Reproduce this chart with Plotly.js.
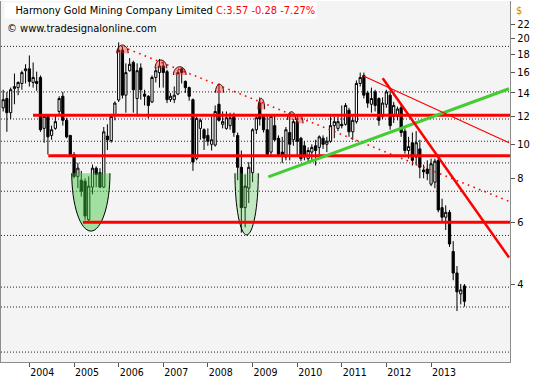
<!DOCTYPE html>
<html><head><meta charset="utf-8">
<script src="https://cdn.plot.ly/plotly-3.0.1.min.js"></script>
<style>html,body{margin:0;padding:0;background:#fff;}#chart{width:533px;height:380px;}</style>
</head><body><div id="chart"></div>
<script>
// ---- data (monthly candles, first month June 2003) ----
const firstYear = 2003, firstMonth = 6;
const opens = [12.7,13.5,12.3,14.4,14.5,14.9,16.2,16.4,15.0,15.1,
15.5,11.1,12.0,10.6,11.1,12.4,13.7,11.7,10.6,9.35,
8.1,7.9,7.85,6.1,7.55,8.55,8.3,7.55,10.55,10.25,
12.1,13.37,18.55,13.8,16.2,17.1,13.5,16.5,13.9,13.7,
13.2,15.5,16.0,16.7,16.1,13.4,13.4,13.9,16.4,15.1,
14.5,13.4,9.1,11.1,11.0,10.6,10.0,9.95,13.0,11.4,
11.1,11.3,12.0,10.6,8.6,6.6,7.5,8.3,11.0,13.1,
12.0,11.0,9.5,11.3,10.4,9.5,9.2,10.8,10.3,11.6,
10.4,9.9,9.1,9.5,9.9,9.8,10.4,10.0,10.2,11.3,
11.1,11.4,11.4,12.5,10.85,11.6,14.9,15.7,14.0,13.0,
14.1,13.5,12.0,13.0,13.8,12.0,12.0,12.7,10.9,9.6,
10.1,9.2,9.7,8.45,8.5,7.7,7.8,9.0,6.6,6.2,
6.4,4.95,4.3,3.75,3.95];
const highs = [14.3,14.1,14.5,15.9,15.1,16.2,16.9,17.9,17.1,16.1,
15.7,12.1,12.1,11.3,12.1,13.7,14.1,11.9,10.6,9.5,
8.85,8.4,8.0,8.1,8.75,8.65,8.55,11.2,11.4,12.2,
13.25,19.5,19.0,17.0,17.6,17.3,17.0,17.0,14.3,13.8,
15.7,16.6,17.5,17.2,16.3,14.0,14.6,16.3,16.5,15.2,
14.6,13.5,12.0,11.85,11.1,11.1,12.0,12.9,14.9,12.4,
12.4,12.3,12.3,10.8,9.6,8.2,8.9,11.1,12.0,13.6,
12.1,12.1,12.1,12.1,10.6,10.5,11.2,12.3,11.8,11.9,
10.5,10.2,9.8,10.0,10.3,10.6,10.6,10.5,12.0,12.0,
12.0,12.9,13.1,12.7,12.0,15.2,16.0,16.0,14.2,14.5,
14.3,13.6,13.6,14.3,14.2,13.2,12.8,13.0,11.1,10.5,
10.8,10.9,10.3,8.75,9.0,9.1,9.1,9.2,7.0,6.7,
6.5,5.3,4.5,4.0,4.0];
const lows = [12.4,10.85,11.8,13.0,13.8,14.3,14.9,14.6,14.5,14.2,
10.85,10.1,9.35,10.3,11.0,12.1,11.3,10.4,9.2,8.0,
7.5,7.1,6.1,6.0,7.2,7.55,7.5,7.5,9.63,10.1,
11.7,13.2,13.5,12.3,16.1,12.3,12.0,13.4,12.9,11.85,
13.1,15.0,14.5,14.5,13.1,13.2,13.1,13.8,14.9,14.0,
13.3,8.4,9.0,10.3,9.63,9.9,9.6,9.85,11.6,11.1,
11.0,11.0,10.5,7.9,5.6,5.8,6.8,7.8,10.7,11.3,
10.8,9.2,9.3,10.2,9.2,8.85,9.0,9.0,9.9,9.2,
8.95,9.0,8.9,9.0,8.7,9.35,9.7,9.5,10.1,10.4,
10.9,11.1,11.3,10.5,10.3,11.45,14.6,13.5,12.7,12.3,
12.4,11.3,11.8,12.7,11.0,11.5,11.7,10.5,9.4,9.1,
8.7,8.7,8.0,8.0,7.9,7.6,7.5,6.4,6.0,5.7,
5.1,4.1,3.35,3.5,3.45];
const closes = [13.4,12.3,14.3,14.6,15.0,16.0,16.4,15.1,15.5,14.9,
11.0,12.0,10.5,11.0,11.6,13.5,11.7,10.5,9.35,8.1,
8.55,7.35,6.25,7.6,8.55,8.2,7.55,10.85,10.3,12.0,
13.1,18.5,13.8,16.0,16.9,14.3,16.2,14.3,13.7,12.9,
15.5,16.2,16.7,16.0,13.4,13.7,13.8,16.0,16.0,14.5,
13.7,8.9,11.85,11.7,10.4,10.2,10.3,12.4,11.7,11.6,
11.9,11.9,10.8,8.6,6.6,7.6,8.6,11.0,11.9,11.8,
11.0,9.35,12.0,10.3,9.35,9.35,11.0,10.0,11.6,10.2,
9.1,9.2,9.6,9.8,9.6,10.5,10.0,10.2,11.3,11.6,
11.6,11.3,12.9,10.85,11.7,14.9,15.5,13.8,13.1,13.5,
12.9,11.7,13.1,14.1,11.3,12.9,12.6,10.8,9.6,9.85,
9.0,10.1,8.6,8.35,8.25,8.8,8.95,6.5,6.2,6.4,
5.2,4.3,3.8,3.85,3.57];

const yearTicks = ['2004-01-01','2005-01-01','2006-01-01','2007-01-01','2008-01-01','2009-01-01','2010-01-01','2011-01-01','2012-01-01','2013-01-01'];
const yearLabels = ['2004','2005','2006','2007','2008','2009','2010','2011','2012','2013'];
const priceTicks = [4,6,8,10,12,14,16,18,20,22];
const gridLevels = [19.0,14.1,11.8,10.2,8.85,7.35,5.5,3.92,3.44,2.56];

// drawn annotations (support/resistance levels, cups, caps, trend lines)
const levelPrices = [12.1, 9.28, 6.0];
const levelStarts = ['2004-01-31','2004-06-04','2005-03-15'];
const cupLeft = ['2004-12-13','2008-08-10'];
const cupRight = ['2005-10-22','2009-02-17'];
const cupTop = [8.27, 8.27];
const cupBottom = [5.66, 5.52];
const capLeft = ['2005-12-16','2006-10-26','2007-03-25','2008-03-03','2009-02-15','2009-10-13','2009-12-26'];
const capRight = ['2006-03-20','2007-01-30','2007-07-07','2008-05-10','2009-04-10','2009-12-20','2010-02-18'];
const capBase = [18.16,16.46,15.75,14.02,12.58,11.73,11.47];
const capTop = [19.17,17.38,16.63,14.82,13.51,12.38,12.12];
const dottedTrendX = ['2006-03-18','2014-10-01'], dottedTrendY = [18.67, 6.88];
const greenTrendX = ['2009-05-10','2014-10-01'], greenTrendY = [8.08, 14.39];
const thinRedX = ['2011-06-28','2014-10-01'], thinRedY = [15.65, 10.1];
const thickRedX = ['2011-12-02','2014-10-01'], thickRedY = [15.41, 4.76];

const xRange = ['2003-05-14','2014-10-09'];

// ---- build ----
const months = closes.map((_, i) => {
  const t = firstMonth - 1 + i;
  const y = firstYear + Math.floor(t / 12), m = t % 12 + 1;
  return y + '-' + String(m).padStart(2, '0') + '-01';
});

const FONT = "Tahoma, 'DejaVu Sans Condensed', 'Liberation Sans', Arial, sans-serif";
const K = 0.5523;
function logMix(a, b, t) { return Math.pow(10, Math.log10(a) + t * (Math.log10(b) - Math.log10(a))); }
function ds(ms) { return new Date(ms).toISOString().slice(0, 16).replace('T', '_'); }
function halfEllipse(left, right, flatY, farY) {
  const L = Date.parse(left), R = Date.parse(right), C = (L + R) / 2;
  const yk = logMix(flatY, farY, K);
  return 'M' + ds(L) + ',' + flatY +
    ' C' + ds(L) + ',' + yk + ' ' + ds(C - K * (C - L)) + ',' + farY + ' ' + ds(C) + ',' + farY +
    ' C' + ds(C + K * (R - C)) + ',' + farY + ' ' + ds(R) + ',' + yk + ' ' + ds(R) + ',' + flatY;
}

const shapes = [];
gridLevels.forEach(v => shapes.push({type:'line', xref:'paper', x0:0, x1:1, yref:'y', y0:v, y1:v,
  layer:'below', line:{color:'#222', width:1, dash:'1px,2px'}}));
const cupFills = ['rgba(60,200,60,0.45)','rgba(60,200,60,0.27)'];
cupLeft.forEach((l, i) => shapes.push({type:'path', xref:'x', yref:'y', layer:'above',
  path: halfEllipse(l, cupRight[i], cupTop[i], cupBottom[i]),
  fillcolor: cupFills[i], line:{color:'#000', width:1}}));
capLeft.forEach((l, i) => shapes.push({type:'path', xref:'x', yref:'y', layer:'above',
  path: halfEllipse(l, capRight[i], capBase[i], capTop[i]),
  fillcolor:'rgba(255,40,40,0.4)', line:{color:'#400000', width:1}}));
levelPrices.forEach((v, i) => shapes.push({type:'line', xref:'x', yref:'y', layer:'above',
  x0: levelStarts[i], x1: xRange[1], y0: v, y1: v, line:{color:'#ff0000', width:3}}));
shapes.push({type:'line', xref:'x', yref:'y', layer:'above', x0:dottedTrendX[0], x1:dottedTrendX[1],
  y0:dottedTrendY[0], y1:dottedTrendY[1], line:{color:'#ff0000', width:1.6, dash:'1.6px,4.4px'}});
shapes.push({type:'line', xref:'x', yref:'y', layer:'above', x0:greenTrendX[0], x1:greenTrendX[1],
  y0:greenTrendY[0], y1:greenTrendY[1], line:{color:'#44cc33', width:3}});
shapes.push({type:'line', xref:'x', yref:'y', layer:'above', x0:thinRedX[0], x1:thinRedX[1],
  y0:thinRedY[0], y1:thinRedY[1], line:{color:'#ff0000', width:1.2}});
shapes.push({type:'line', xref:'x', yref:'y', layer:'above', x0:thickRedX[0], x1:thickRedX[1],
  y0:thickRedY[0], y1:thickRedY[1], line:{color:'#ff0000', width:2.5}});

const trace = {
  type:'candlestick', x: months, open: opens, high: highs, low: lows, close: closes,
  increasing:{line:{color:'#000', width:1}, fillcolor:'#ffffff'},
  decreasing:{line:{color:'#000', width:1}, fillcolor:'#000000'},
  whiskerwidth: 0, hoverinfo:'skip', showlegend:false
};

const layout = {
  width:533, height:380,
  margin:{l:1, r:23, t:1, b:18, pad:0},
  paper_bgcolor:'#ffffff', plot_bgcolor:'#f4f4f4',
  font:{family:FONT, size:11, color:'#000'},
  showlegend:false, boxgap:0.35, boxgroupgap:0,
  xaxis:{type:'date', range:xRange, rangeslider:{visible:false}, showgrid:false, zeroline:false,
    tickmode:'array', tickvals:yearTicks, ticktext:yearLabels, ticks:'outside', ticklen:4, tickwidth:1,
    tickcolor:'#555', ticklabelshift:13, ticklabelstandoff:-4, showline:true, linecolor:'#8c8c8c', linewidth:1,
    tickfont:{size:10.5, family:FONT}, automargin:false, fixedrange:true},
  yaxis:{type:'log', side:'right', range:[0.380, 1.408], showgrid:false, zeroline:false,
    tickmode:'array', tickvals:priceTicks, ticktext:priceTicks.map(String), ticks:'outside', ticklen:4,
    tickwidth:1, tickcolor:'#555', showline:true, mirror:true, linecolor:'#8c8c8c', linewidth:1,
    tickfont:{size:11, family:FONT}, automargin:false, fixedrange:true},
  shapes: shapes,
  annotations:[
    {xref:'paper', yref:'paper', x:0, y:1, xanchor:'left', yanchor:'top', xshift:3, yshift:-1,
     showarrow:false, bgcolor:'#ffffff', borderpad:1, align:'left',
     text:'\u00a0\u00a0\u00a0Harmony Gold Mining Company Limited <span style="color:#ff0000">C:3.57 -0.28 -7.27%</span>',
     font:{family:FONT, size:11, color:'#000'}},
    {xref:'paper', yref:'paper', x:0, y:1, xanchor:'left', yanchor:'top', xshift:4, yshift:-19,
     showarrow:false, text:'\u00a9 www.tradesignalonline.com', font:{family:FONT, size:11, color:'#000'}},
    {xref:'paper', yref:'paper', x:1, y:1, xanchor:'left', yanchor:'top', xshift:4, yshift:-1,
     showarrow:false, text:'$', font:{family:FONT, size:11, color:'#c8860a'}}
  ]
};

Plotly.newPlot('chart', [trace], layout, {staticPlot:true, displayModeBar:false});
</script>
</body></html>
